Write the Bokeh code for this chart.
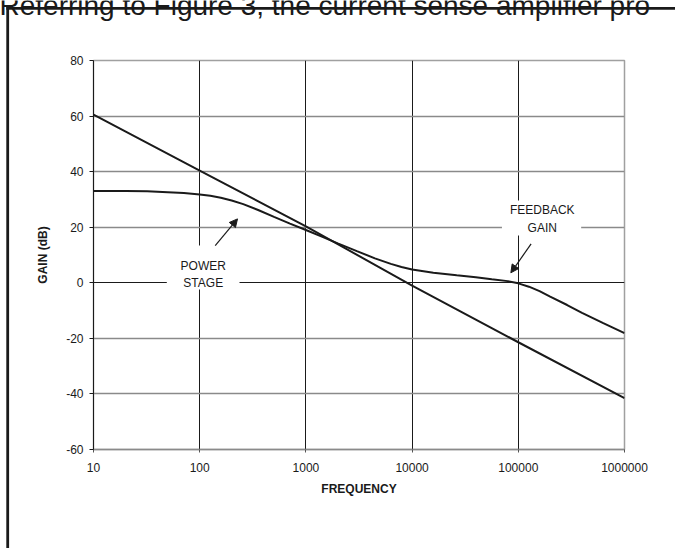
from bokeh.plotting import figure
from bokeh.layouts import column
from bokeh.models import (FixedTicker, Grid, BoxAnnotation, Label, Arrow, NormalHead,
                          Range1d, NumeralTickFormatter)
from bokeh.embed import file_html
from bokeh.resources import INLINE

# ---- data -------------------------------------------------------------
freq_ticks = [10, 100, 1000, 10000, 100000, 1000000]
freq_labels = ["10", "100", "1000", "10000", "100000", "1000000"]
gain_ticks = [-60, -40, -20, 0, 20, 40, 60, 80]
gain_labels = ["-60", "-40", "-20", "0", "20", "40", "60", "80"]

# straight -20 dB/decade line
line_a_freq = [10, 100, 1000, 10000, 100000, 1000000]
line_a_gain = [60.5, 40.4, 20.3, -1.0, -21.4, -41.5]

# curved line (flat at low frequency)
curve_b_freq = [10, 20, 32, 50, 71, 100, 126, 158, 200, 257, 355, 501, 708, 1000,
                1413, 1995, 3020, 4467, 6310, 7943, 10000, 15849, 26303, 39811,
                56234, 79433, 100000, 125893, 158489, 199526, 288403, 398107,
                630957, 1000000]
curve_b_gain = [33.0, 33.0, 32.9, 32.6, 32.3, 31.8, 31.3, 30.6, 29.6, 28.3, 26.2,
                23.7, 21.3, 19.0, 16.6, 14.2, 11.4, 8.8, 6.8, 5.7, 4.8, 3.6, 2.7,
                2.0, 1.3, 0.6, -0.2, -1.4, -3.0, -5.0, -8.0, -10.8, -14.5, -18.1]

header_text = "Referring to Figure 3, the current sense amplifier pro"
FONT = "Liberation Sans"
INK = "#1a1a1a"
W, H = 675, 548

p = figure(width=W, height=H, x_axis_type="log",
           x_range=Range1d(10, 1000000), y_range=Range1d(-60, 80),
           output_backend="svg", toolbar_location=None,
           min_border_left=93, min_border_right=51, min_border_top=60,
           min_border_bottom=99)
p.background_fill_color = "white"
p.border_fill_color = "white"
p.outline_line_color = "#a0a0a0"
p.outline_line_width = 1.5

# axes
p.xaxis.ticker = FixedTicker(ticks=freq_ticks)
p.xaxis.formatter = NumeralTickFormatter(format="0")
p.xaxis.major_label_overrides = {float(t): s for t, s in zip(freq_ticks, freq_labels)}
p.yaxis.ticker = FixedTicker(ticks=gain_ticks)
p.yaxis.major_label_overrides = {t: s for t, s in zip(gain_ticks, gain_labels)}
for ax in (p.xaxis, p.yaxis):
    ax.minor_tick_line_color = None
    ax.major_tick_in = 0
    ax.major_label_text_font = FONT
    ax.major_label_text_font_size = "12px"
    ax.major_label_text_color = INK
    ax.axis_label_text_font = FONT
    ax.axis_label_text_font_style = "bold"
    ax.axis_label_text_font_size = "12px"
    ax.axis_label_text_color = INK
p.xaxis.axis_line_color = "#8a8a8a"
p.xaxis.axis_line_width = 1.5
p.xaxis.major_tick_out = 3
p.xaxis.major_tick_line_color = "#555555"
p.xaxis.major_label_standoff = 10
p.xaxis.axis_label = "FREQUENCY"
p.xaxis.axis_label_standoff = 7
p.yaxis.axis_line_color = INK
p.yaxis.major_tick_out = 4
p.yaxis.major_tick_line_color = INK
p.yaxis.major_label_standoff = 6
p.yaxis.axis_label = "GAIN (dB)"
p.yaxis.axis_label_standoff = 13

# grids
p.xgrid.ticker = FixedTicker(ticks=[100, 1000, 10000, 100000])
p.xgrid.grid_line_color = INK
p.xgrid.grid_line_width = 1
p.ygrid.ticker = FixedTicker(ticks=[-40, -20, 20, 40, 60])
p.ygrid.grid_line_color = "#8a8a8a"
p.ygrid.grid_line_width = 1.5
p.add_layout(Grid(dimension=1, ticker=FixedTicker(ticks=[0]),
                  grid_line_color=INK, grid_line_width=1))

# data lines
p.line(line_a_freq, line_a_gain, line_color=INK, line_width=2)
p.line(curve_b_freq, curve_b_gain, line_color=INK, line_width=2)

# label backgrounds
p.add_layout(BoxAnnotation(left=49, right=237, bottom=-2.4, top=13.4,
                           fill_color="white", fill_alpha=1, line_color=None))
p.add_layout(BoxAnnotation(left=70150, right=390800, bottom=17.0, top=29.6,
                           fill_color="white", fill_alpha=1, line_color=None))

p.add_layout(Label(x=108, y=3.0, text="POWER\nSTAGE", text_align="center",
                   text_baseline="middle", text_font=FONT, text_font_size="12px",
                   text_color=INK, text_line_height=1.25))
p.add_layout(Label(x=168000, y=23.0, text="FEEDBACK\nGAIN", text_align="center",
                   text_baseline="middle", text_font=FONT, text_font_size="12px",
                   text_color=INK, text_line_height=1.25))

p.add_layout(Arrow(x_start=140, y_start=13.4, x_end=227, y_end=23.0,
                   line_color=INK, line_width=1.2,
                   end=NormalHead(size=8, fill_color=INK, line_color=INK)))
p.add_layout(Arrow(x_start=132000, y_start=14.0, x_end=85100, y_end=3.6,
                   line_color=INK, line_width=1.2,
                   end=NormalHead(size=8, fill_color=INK, line_color=INK)))

# ---- transparent overlay for the cropped document page (rules + header) ----
ov = figure(width=W, height=H, x_range=Range1d(0, W), y_range=Range1d(H, 0),
            output_backend="svg", toolbar_location=None,
            x_axis_location=None, y_axis_location=None,
            min_border=0, margin=(-H, 0, 0, 0))
for fig in (p, ov):
    if "frame_align" in fig.properties():
        fig.frame_align = False
ov.outline_line_color = None
ov.background_fill_alpha = 0
ov.border_fill_alpha = 0
ov.xgrid.visible = False
ov.ygrid.visible = False
ov.add_layout(BoxAnnotation(left=5.8, right=8.6, top=6.6, bottom=H,
                            fill_color=INK, fill_alpha=1, line_color=None))
ov.add_layout(BoxAnnotation(left=5.8, right=W, top=6.6, bottom=9.2,
                            fill_color=INK, fill_alpha=1, line_color=None))
ov.add_layout(Label(x=-1, y=5, text=header_text, text_font=FONT,
                    text_font_size="28px", text_color=INK,
                    text_baseline="alphabetic"))

layout = column(p, ov)
open("out.html", "w").write(file_html(layout, INLINE))
